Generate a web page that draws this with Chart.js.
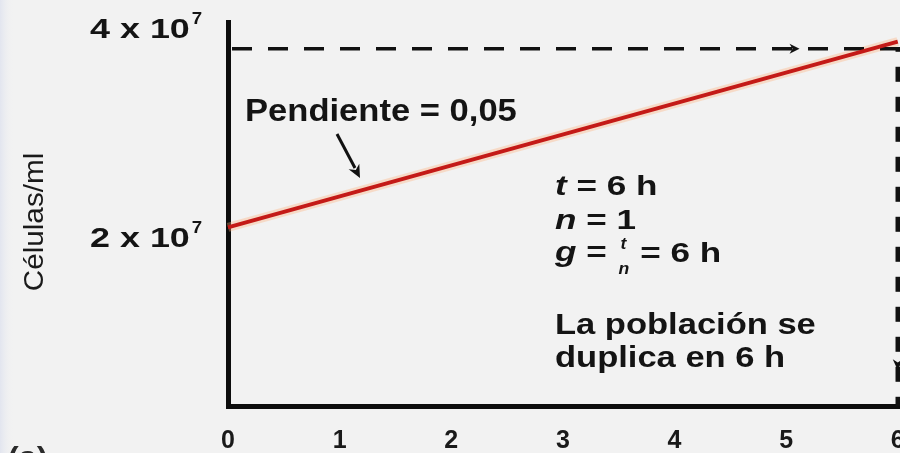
<!DOCTYPE html>
<html>
<head>
<meta charset="utf-8">
<script src="https://cdn.jsdelivr.net/npm/chart.js@4.4.1/dist/chart.umd.min.js"></script>
<style>
  html, body { margin: 0; padding: 0; background: #f2f2f2; }
  #wrap { width: 900px; height: 453px; }
</style>
</head>
<body>
<div id="wrap"><canvas id="c" width="900" height="453"></canvas></div>
<script>
// Exponential growth, arithmetic plot: cells/ml against time (h)
const hours = [0, 6];
const cellsPerMl = [2.0e7, 4.08e7];

// Axis ticks
const xTickValues = [0, 1, 2, 3, 4, 5, 6];
const yTickValues = [2e7, 4e7];
const yTickBases = ['2 x 10', '4 x 10'];
const yTickExps = ['7', '7'];

// Doubling guides: level reached and the time it takes
const doubledLevel = 4e7;
const doublingHours = 6;

const FONT = '"Liberation Sans", Arial, Helvetica, sans-serif';

function txt(ctx, s, x, y, size, opts) {
  const o = Object.assign({ weight: 'bold', italic: false, sx: 1, color: '#141414' }, opts || {});
  ctx.save();
  ctx.font = (o.italic ? 'italic ' : '') + o.weight + ' ' + size + 'px ' + FONT;
  ctx.fillStyle = o.color;
  ctx.textBaseline = 'alphabetic';
  ctx.textAlign = 'left';
  ctx.translate(x, y);
  ctx.scale(o.sx, 1);
  ctx.fillText(s, 0, 0);
  const w = ctx.measureText(s).width * o.sx;
  ctx.restore();
  return w;
}

function arrowHead(ctx, x, y, angle, len, half) {
  ctx.save();
  ctx.translate(x, y);
  ctx.rotate(angle);
  ctx.beginPath();
  ctx.moveTo(0, 0);
  ctx.lineTo(-len, -half);
  ctx.lineTo(-len * 0.7, 0);
  ctx.lineTo(-len, half);
  ctx.closePath();
  ctx.fill();
  ctx.restore();
}

const decor = {
  id: 'decor',
  beforeDraw(chart) {
    const ctx = chart.ctx;
    ctx.save();
    ctx.fillStyle = '#f2f2f2';
    ctx.fillRect(0, 0, chart.width, chart.height);
    const g = ctx.createLinearGradient(0, 0, 14, 0);
    g.addColorStop(0, '#e2e5ef');
    g.addColorStop(1, 'rgba(242,242,242,0)');
    ctx.fillStyle = g;
    ctx.fillRect(0, 0, 14, chart.height);
    ctx.restore();
  },
  afterDatasetsDraw(chart) {
    const ctx = chart.ctx;
    const xs = chart.scales.x, ys = chart.scales.y;
    ctx.save();
    ctx.fillStyle = '#111';
    ctx.strokeStyle = '#111';

    // arrowheads on the doubling guides
    arrowHead(ctx, xs.getPixelForValue(5.12), ys.getPixelForValue(doubledLevel), 0, 10, 5);
    arrowHead(ctx, xs.getPixelForValue(doublingHours), ys.getPixelForValue(0.4e7), Math.PI / 2, 11, 5);

    // y tick labels with raised exponent
    const yLabelShift = { 20000000: 20, 40000000: -11 };
    yTickValues.forEach((v, i) => {
      const base = ys.getPixelForValue(v) + yLabelShift[v];
      const w = txt(ctx, yTickBases[i], 90, base, 27, { sx: 1.33 });
      txt(ctx, yTickExps[i], 90 + w + 2, base - 14, 17, { sx: 1.1 });
    });

    // y axis title
    ctx.save();
    ctx.translate(43, 222);
    ctx.rotate(-Math.PI / 2);
    ctx.font = '400 27px ' + FONT;
    ctx.textAlign = 'center';
    ctx.fillStyle = '#1a1a1a';
    ctx.scale(1.1, 1);
    ctx.fillText('Células/ml', 0, 0);
    ctx.restore();

    // slope label and pointer
    txt(ctx, 'Pendiente = 0,05', 245, 121, 31, { sx: 1.115 });
    ctx.lineWidth = 3;
    ctx.beginPath();
    ctx.moveTo(337, 134);
    ctx.lineTo(355, 168);
    ctx.stroke();
    arrowHead(ctx, 360, 178, Math.atan2(44, 23), 13, 6);

    // generation time
    const sx = 1.3, fs = 27;
    let x = 555;
    x += txt(ctx, 't', x, 195, fs, { italic: true, sx });
    txt(ctx, ' = 6 h', x, 195, fs, { sx });
    x = 555;
    x += txt(ctx, 'n', x, 229, fs, { italic: true, sx });
    txt(ctx, ' = 1', x, 229, fs, { sx });
    x = 555;
    x += txt(ctx, 'g', x, 261, fs, { italic: true, sx });
    x += txt(ctx, ' = ', x, 261, fs, { sx });
    txt(ctx, 't', x + 4, 249, 16, { italic: true, sx: 1.1 });
    txt(ctx, 'n', x + 2, 274, 16, { italic: true, sx: 1.1 });
    txt(ctx, ' = 6 h', x + 14, 262, fs, { sx });

    txt(ctx, 'La población se', 555, 334, 29, { sx: 1.19 });
    txt(ctx, 'duplica en 6 h', 555, 367, 29, { sx: 1.19 });

    // panel letter, running off the bottom edge
    txt(ctx, '(a)', 8, 466, 28, { sx: 1.15, color: '#2a2a2a' });
    ctx.restore();
  }
};

new Chart(document.getElementById('c'), {
  type: 'scatter',
  data: {
    datasets: [
      {
        label: 'Células/ml',
        data: hours.map((h, i) => ({ x: h, y: cellsPerMl[i] })),
        showLine: true,
        borderColor: '#c41a17',
        borderWidth: 4,
        pointRadius: 0,
        order: 0
      },
      {
        label: 'halo',
        data: hours.map((h, i) => ({ x: h, y: cellsPerMl[i] })),
        showLine: true,
        borderColor: 'rgba(255,175,120,0.35)',
        borderWidth: 9,
        pointRadius: 0,
        order: 3
      },
      {
        label: 'nivel duplicado',
        data: [{ x: 0, y: doubledLevel }, { x: 6.02, y: doubledLevel }],
        showLine: true,
        borderColor: '#111',
        borderWidth: 3.5,
        borderDash: [20, 16],
        borderDashOffset: -4,
        pointRadius: 0,
        order: 1
      },
      {
        label: 'tiempo de duplicación',
        data: [{ x: doublingHours, y: doubledLevel }, { x: doublingHours, y: 0 }],
        showLine: true,
        borderColor: '#111',
        borderWidth: 4.5,
        borderDash: [15, 15],
        borderDashOffset: -18,
        pointRadius: 0,
        order: 2
      }
    ]
  },
  options: {
    responsive: false,
    animation: false,
    events: [],
    clip: false,
    layout: { autoPadding: false, padding: { left: 228, right: 0, top: 22, bottom: 0 } },
    plugins: { legend: { display: false }, tooltip: { enabled: false } },
    scales: {
      x: {
        type: 'linear',
        min: 0,
        max: 6.02,
        afterBuildTicks: (s) => { s.ticks = xTickValues.map(v => ({ value: v })); },
        afterFit: (s) => { s.paddingLeft = 0; s.paddingRight = 0; s.height = 47; },
        grid: { display: false },
        border: { display: true, color: '#0d0d0d', width: 5 },
        ticks: {
          padding: 12,
          color: '#1a1a1a',
          font: { family: FONT, size: 25, weight: 'bold' },
          maxRotation: 0,
          autoSkip: false
        }
      },
      y: {
        type: 'linear',
        min: 0,
        max: 4.3e7,
        afterFit: (s) => { s.width = 0; s.paddingTop = 0; s.paddingBottom = 0; },
        grid: { display: false },
        border: { display: true, color: '#0d0d0d', width: 5 },
        ticks: { display: false }
      }
    }
  },
  plugins: [decor]
});
</script>
</body>
</html>
